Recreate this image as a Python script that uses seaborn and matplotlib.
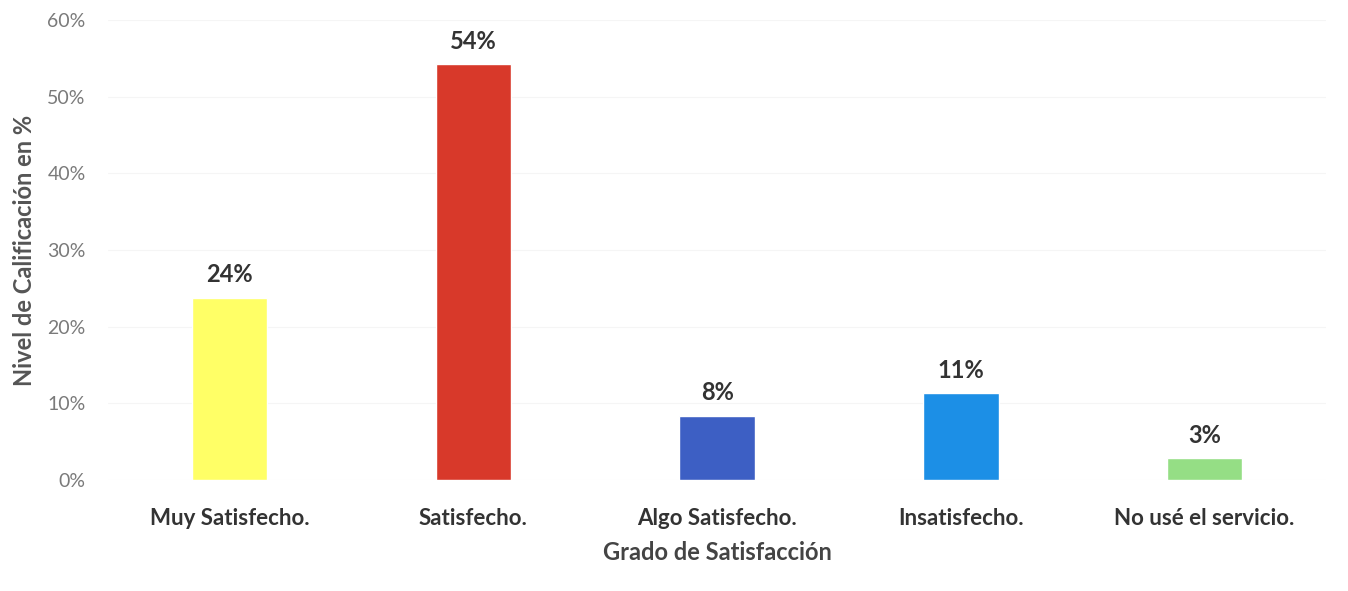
import matplotlib
matplotlib.use("Agg")
import matplotlib.pyplot as plt
import seaborn as sns
import pandas as pd
from matplotlib.ticker import PercentFormatter

# data
categorias = ["Muy Satisfecho.", "Satisfecho.", "Algo Satisfecho.", "Insatisfecho.", "No usé el servicio."]
porcentajes = [23.8, 54.3, 8.4, 11.3, 2.8]
colores = ["#FFFF66", "#D8392A", "#3D5FC4", "#1C8FE6", "#95DE85"]
y_ticks = [0, 10, 20, 30, 40, 50, 60]

sns.set_style("white")
plt.rcParams["font.family"] = ["Lato", "DejaVu Sans"]

df = pd.DataFrame({"grado": categorias, "pct": porcentajes})

fig = plt.figure(figsize=(13.48, 5.91), dpi=100)
ax = fig.add_axes([0.080, 0.188, 0.904, 0.778])

sns.barplot(data=df, x="grado", y="pct", hue="grado", palette=colores,
            width=0.31, legend=False, ax=ax, saturation=1)

for patch, v in zip(ax.patches, porcentajes):
    ax.annotate(f"{round(v)}%", (patch.get_x() + patch.get_width() / 2, v),
                xytext=(0, 8), textcoords="offset points", ha="center", va="bottom",
                fontsize=17, fontweight="bold", color="#333333")

ax.set_ylim(0, 60)
ax.set_yticks(y_ticks)
ax.yaxis.set_major_formatter(PercentFormatter(decimals=0))
ax.set_xlim(-0.5, len(categorias) - 0.5)
ax.grid(axis="y", color="#f5f5f5", linewidth=0.8)
ax.set_axisbelow(True)
sns.despine(ax=ax, left=True, bottom=True)
ax.tick_params(axis="y", length=0, labelsize=14, labelcolor="#7a7a7a", pad=16)
ax.tick_params(axis="x", length=0, labelsize=16, labelcolor="#333333", pad=20)
for lbl in ax.get_xticklabels():
    lbl.set_fontweight("bold")

ax.set_xlabel("Grado de Satisfacción", fontsize=17, fontweight="bold", color="#444444", labelpad=9)
ax.set_ylabel("Nivel de Calificación en %", fontsize=17, fontweight="bold", color="#555555", labelpad=8)

fig.savefig("out.png", dpi=100)
